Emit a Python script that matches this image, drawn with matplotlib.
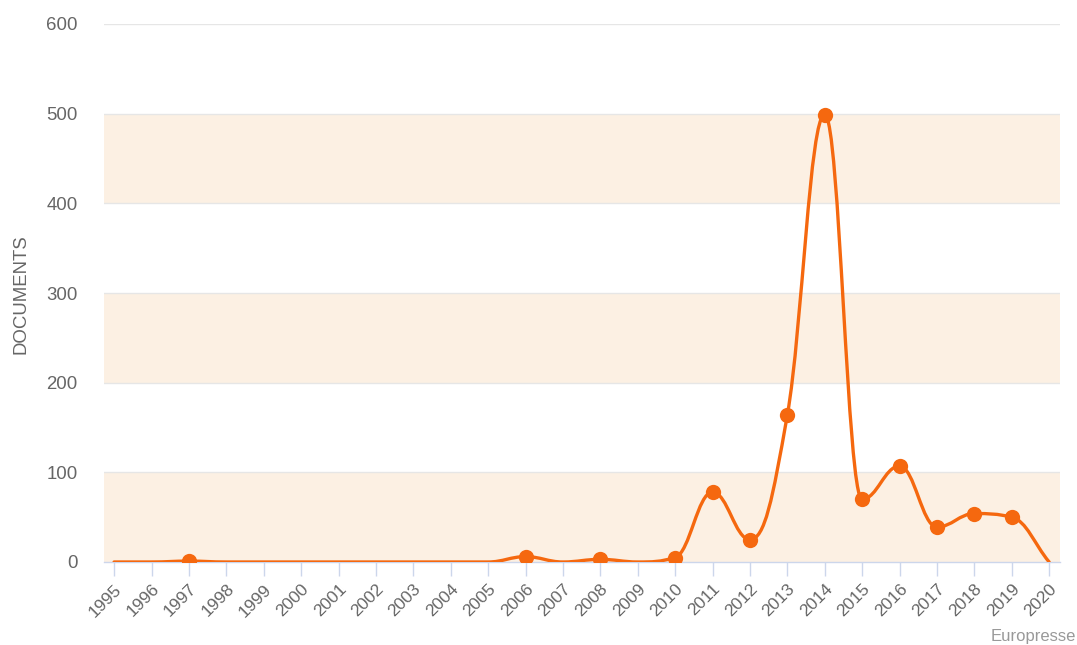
import numpy as np
import matplotlib
matplotlib.use("Agg")
import matplotlib.pyplot as plt
from matplotlib.path import Path
from matplotlib.patches import PathPatch

plt.rcParams['font.family'] = ['Liberation Sans', 'DejaVu Sans']

years = list(range(1995, 2021))
documents = [0, 0, 1, 0, 0, 0, 0, 0, 0, 0, 0, 6, 0, 3, 0, 5,
             78, 25, 164, 499, 70, 107, 39, 54, 50, 0]
band_ranges = [(0, 100), (200, 300), (400, 500)]
y_ticks = [0, 100, 200, 300, 400, 500, 600]

ORANGE = '#f5680f'
BAND = '#fcf0e3'
GRID = '#e6e6e6'
AXIS = '#ccd6eb'
TEXT = '#666666'


def spline_path(xs, ys, smoothing=1.5):
    """Cubic bezier path through the points with clamped control points."""
    denom = smoothing + 1
    n = len(xs)
    left = [None] * n
    right = [None] * n
    for i in range(n):
        px, py = xs[i], ys[i]
        lx, ly = (xs[i - 1], ys[i - 1]) if i > 0 else (px, py)
        nx, ny = (xs[i + 1], ys[i + 1]) if i < n - 1 else (px, py)
        lcx = (smoothing * px + lx) / denom
        lcy = (smoothing * py + ly) / denom
        rcx = (smoothing * px + nx) / denom
        rcy = (smoothing * py + ny) / denom
        if rcx != lcx:
            corr = ((rcy - lcy) * (rcx - px)) / (rcx - lcx) + py - rcy
            lcy += corr
            rcy += corr
        if lcy > ly and lcy > py:
            lcy = max(ly, py)
            rcy = 2 * py - lcy
        elif lcy < ly and lcy < py:
            lcy = min(ly, py)
            rcy = 2 * py - lcy
        if rcy > ny and rcy > py:
            rcy = max(ny, py)
            lcy = 2 * py - rcy
        elif rcy < ny and rcy < py:
            rcy = min(ny, py)
            lcy = 2 * py - rcy
        left[i] = (lcx, lcy)
        right[i] = (rcx, rcy)
    verts = [(xs[0], ys[0])]
    codes = [Path.MOVETO]
    for i in range(1, n):
        verts += [right[i - 1], left[i], (xs[i], ys[i])]
        codes += [Path.CURVE4] * 3
    return Path(verts, codes)


fig = plt.figure(figsize=(10.77, 6.45), dpi=100)
ax = fig.add_axes([104 / 1077, 1 - 562 / 645, (1060 - 104) / 1077, (562 - 24) / 645])

ax.set_xlim(1994.73, 2020.29)
ax.set_ylim(0, 600)

for lo, hi in band_ranges:
    ax.axhspan(lo, hi, color=BAND, lw=0, zorder=0)
for t in y_ticks[1:]:
    ax.axhline(t, color=GRID, lw=1, zorder=1)

path = spline_path([float(y) for y in years], [float(v) for v in documents])
ax.add_patch(PathPatch(path, facecolor='none', edgecolor=ORANGE, lw=2.4,
                       capstyle='round', joinstyle='round', zorder=3))

mx = [y for y, v in zip(years, documents) if v > 0]
my = [v for v in documents if v > 0]
ax.plot(mx, my, 'o', color=ORANGE, ms=11, mew=0, zorder=4)

for s in ['top', 'right', 'left']:
    ax.spines[s].set_visible(False)
ax.spines['bottom'].set_color(AXIS)
ax.spines['bottom'].set_linewidth(1)

ax.set_xticks(years)
ax.set_xticklabels([str(y) for y in years], rotation=45, ha='right',
                   rotation_mode='anchor', fontsize=12.5, color=TEXT)
ax.tick_params(axis='x', length=10, width=1, color=AXIS, pad=4)
ax.set_yticks(y_ticks)
ax.set_yticklabels([str(t) for t in y_ticks], fontsize=13.4, color=TEXT)
ax.tick_params(axis='y', length=0, pad=19)

fig.text(21 / 1077, 1 - 294 / 645, 'DOCUMENTS', rotation=90, ha='center',
         va='center', fontsize=13.4, color=TEXT)
fig.text(1076 / 1077, 1 - 637 / 645, 'Europresse', ha='right', va='center',
         fontsize=12, color='#999999')

fig.savefig('out.png', dpi=100)
